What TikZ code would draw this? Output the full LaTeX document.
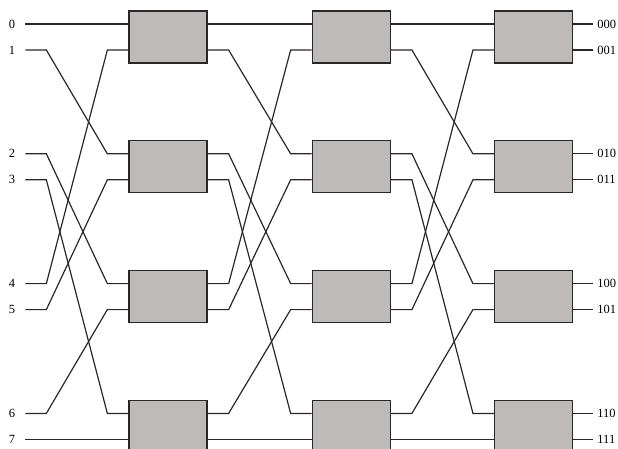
\documentclass[tikz,border=0pt]{standalone}
\usepackage{fontspec}
\setmainfont{Liberation Serif}
\usepackage{tikz}
\usetikzlibrary{positioning}

\definecolor{swfill}{RGB}{190,186,186}
\definecolor{wirecol}{RGB}{40,40,40}

\begin{document}
\begin{tikzpicture}[
    x=1pt, y=-1pt,
    font=\fontsize{12.5}{14}\selectfont,
    sw/.style={
        draw=wirecol,
        line width=1.3pt,
        fill=swfill,
        minimum width=78pt,
        minimum height=52pt,
        inner sep=0pt
    },
    wire/.style={draw=wirecol, line width=1.2pt},
    lbl/.style={inner sep=1pt}
]
\useasboundingbox (0,0) rectangle (618,449);

% stage 1
\node[sw] at (168,37) (sw10) {};
\node[sw, below=76.5pt of sw10] (sw11) {};
\node[sw, below=76.5pt of sw11] (sw12) {};
\node[sw, below=76.5pt of sw12] (sw13) {};
% stage 2
\node[sw, right=104pt of sw10] (sw20) {};
\node[sw, right=104pt of sw11] (sw21) {};
\node[sw, right=104pt of sw12] (sw22) {};
\node[sw, right=104pt of sw13] (sw23) {};
% stage 3
\node[sw, right=103pt of sw20] (sw30) {};
\node[sw, right=103pt of sw21] (sw31) {};
\node[sw, right=103pt of sw22] (sw32) {};
\node[sw, right=103pt of sw23] (sw33) {};

% ports of every switch
\foreach \s in {1,2,3}{
  \foreach \b in {0,...,3}{
    \pgfmathtruncatemacro\up{2*\b}
    \pgfmathtruncatemacro\lo{2*\b+1}
    \coordinate (in\s-\up) at ([yshift=13pt]sw\s\b.west);
    \coordinate (in\s-\lo) at ([yshift=-13pt]sw\s\b.west);
    \coordinate (out\s-\up) at ([yshift=13pt]sw\s\b.east);
    \coordinate (out\s-\lo) at ([yshift=-13pt]sw\s\b.east);
  }
}

% inputs and outputs
\foreach \r/\t in {0/000,1/001,2/010,3/011,4/100,5/101,6/110,7/111} {
    \coordinate (p\r) at ([xshift=-103pt]in1-\r);
    \coordinate (q\r) at ([xshift=20pt]out3-\r);
    \node[lbl, left=9pt of p\r] (x\r) {\r};
    \node[lbl, right=3pt of q\r] (y\r) {\t};
    \draw[wire] (out3-\r) -- (q\r);
}

% perfect shuffle links
\foreach \a/\b in {0/0,1/2,2/4,3/6,4/1,5/3,6/5,7/7} {
    \draw[wire] (p\a) -- ([xshift=21pt]p\a) -- ([xshift=-21pt]in1-\b) -- (in1-\b);
    \draw[wire] (out1-\a) -- ([xshift=21pt]out1-\a) -- ([xshift=-21pt]in2-\b) -- (in2-\b);
    \draw[wire] (out2-\a) -- ([xshift=21pt]out2-\a) -- ([xshift=-21pt]in3-\b) -- (in3-\b);
}
\end{tikzpicture}
\end{document}
